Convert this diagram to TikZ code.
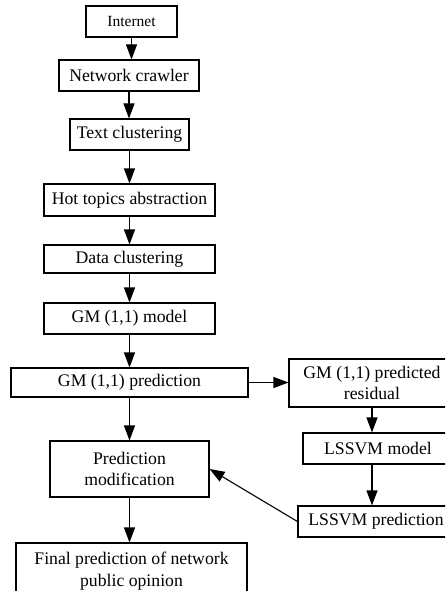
\documentclass[tikz,border=0pt]{standalone}
\usepackage{fontspec}
\setmainfont{Liberation Serif}
\usetikzlibrary{arrows.meta}
\tikzset{
  procbox/.style = {
    rectangle,
    draw=black,
    fill=white,
    text=black,
    font=\fontsize{17.7}{21.5}\selectfont,
    align=center,
    inner sep=0pt,
    minimum height=31pt,
    line width=1.1pt
  },
  flowarrow/.style = {
    -{Triangle[length=15pt, width=11pt]},
    line width=1.1pt,
    draw=black
  }
}

\begin{document}
\begin{tikzpicture}[x=1pt, y=-1pt]
  \useasboundingbox (0,0) rectangle (445,591);
  \clip (0,0) rectangle (445,591);

  % Main column
  \node[procbox, minimum width=91pt, font=\fontsize{15.5}{19}\selectfont] (internet) at (131.5, 21.5) {Internet};
  \node[procbox, minimum width=140pt] (crawler) at (129, 75.5) {Network crawler};
  \node[procbox, minimum width=119pt] (textclust) at (129.5, 134.5) {Text clustering};
  \node[procbox, minimum width=171pt, minimum height=32pt] (hottopics) at (129.5, 200) {Hot topics abstraction};
  \node[procbox, minimum width=171pt, minimum height=28pt] (dataclust) at (129.5, 259) {Data clustering};
  \node[procbox, minimum width=171pt] (gmmodel) at (129.5, 318.5) {GM (1,1) model};
  \node[procbox, minimum width=237pt, minimum height=29pt] (gmpred) at (129.5, 382.5) {GM (1,1) prediction};
  \node[procbox, minimum width=159pt, minimum height=56pt] (predmod) at (129.5, 469) {Prediction\\modification};
  \node[procbox, minimum width=231pt, minimum height=56pt] (final) at (131.5, 571) {Final prediction of network\\public opinion};

  % Residual branch
  \node[procbox, minimum width=166pt, minimum height=48pt] (residual) at (372, 383) {GM (1,1) predicted\\residual};
  \node[procbox, minimum width=150pt] (lssvmmodel) at (378, 448.5) {LSSVM model};
  \node[procbox, minimum width=156pt] (lssvmpred) at (376, 521.5) {LSSVM prediction};

  % Arrows
  \draw[flowarrow] (internet.south) -- (internet.south |- crawler.north);
  \draw[flowarrow] (crawler.south) -- (crawler.south |- textclust.north);
  \draw[flowarrow] (textclust.south) -- (textclust.south |- hottopics.north);
  \draw[flowarrow] (hottopics.south) -- (hottopics.south |- dataclust.north);
  \draw[flowarrow] (dataclust.south) -- (dataclust.south |- gmmodel.north);
  \draw[flowarrow] (gmmodel.south) -- (gmmodel.south |- gmpred.north);
  \draw[flowarrow] (gmpred.south) -- (gmpred.south |- predmod.north);
  \draw[flowarrow] (predmod.south) -- (predmod.south |- final.north);

  \draw[flowarrow] (gmpred.east) -- (gmpred.east -| residual.west);
  \draw[flowarrow] (residual.south) -- (residual.south |- lssvmmodel.north);
  \draw[flowarrow] (lssvmmodel.south -| residual.south) -- (residual.south |- lssvmpred.north);
  \draw[flowarrow] (lssvmpred.west) -- (predmod.east);
\end{tikzpicture}
\end{document}
